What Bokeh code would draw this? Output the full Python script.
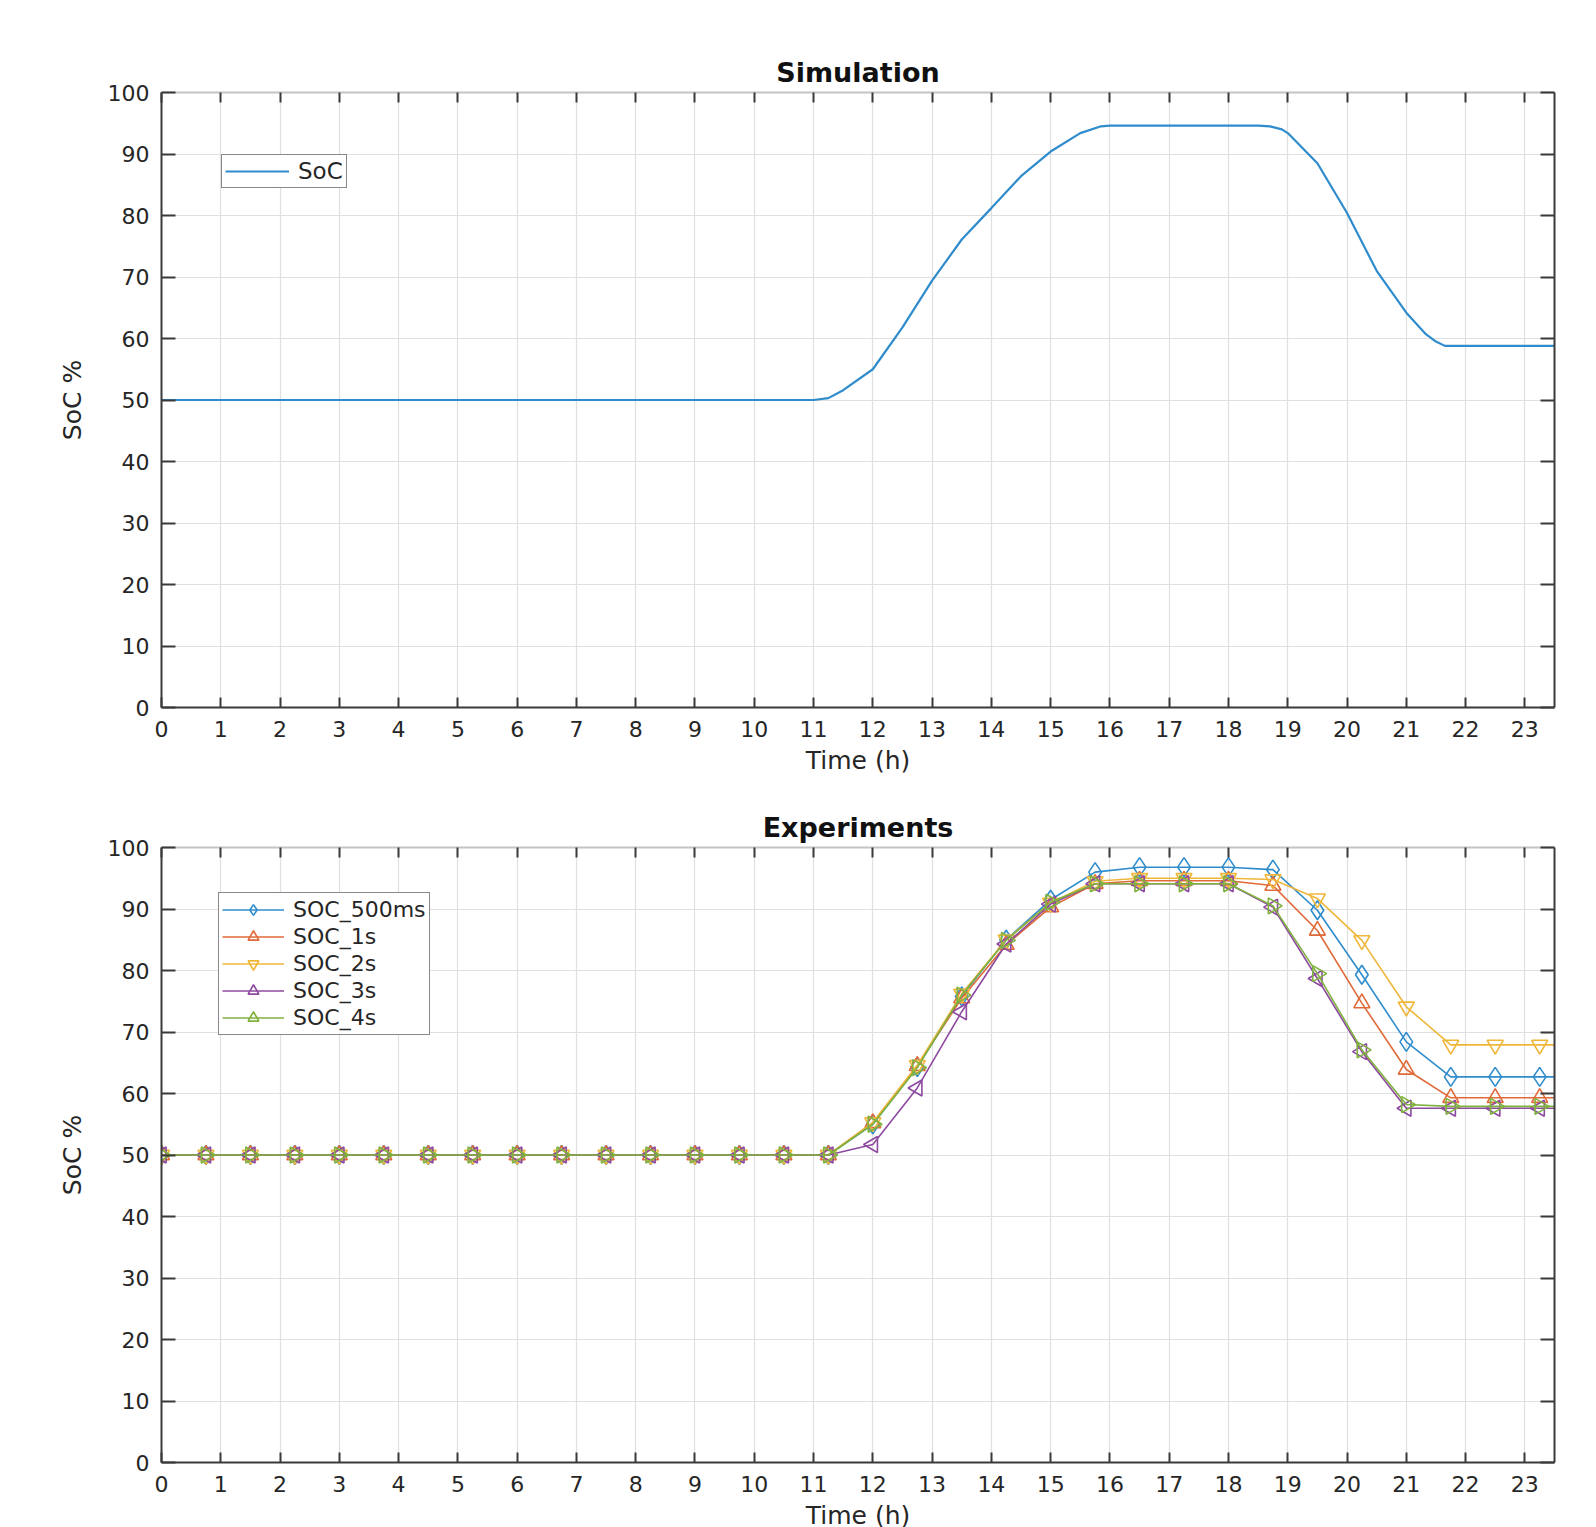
import numpy as np
from bokeh.plotting import figure
from bokeh.models import LinearAxis, FixedTicker, Legend, LegendItem, Range1d, ColumnDataSource
from bokeh.layouts import column
from bokeh.embed import file_html
from bokeh.resources import INLINE

# ---------------- data ----------------
HOUR_TICKS = [0, 1, 2, 3, 4, 5, 6, 7, 8, 9, 10, 11, 12, 13, 14, 15, 16, 17, 18, 19, 20, 21, 22, 23]
SOC_TICKS = [0, 10, 20, 30, 40, 50, 60, 70, 80, 90, 100]
X_END = 23.5

sim_time = [0.0, 11.0, 11.25, 11.5, 12.0, 12.5, 13.0, 13.5, 14.0, 14.5, 15.0, 15.5, 15.85, 16.0,
            18.5, 18.7, 18.9, 19.0, 19.5, 20.0, 20.5, 21.0, 21.33, 21.5, 21.65, 23.5]
sim_soc = [50.0, 50.0, 50.3, 51.6, 55.0, 61.8, 69.4, 76.1, 81.2, 86.4, 90.4, 93.4, 94.5, 94.6,
           94.6, 94.5, 94.0, 93.4, 88.5, 80.4, 71.0, 64.2, 60.7, 59.5, 58.8, 58.8]

exp_time = [0.0, 0.75, 1.5, 2.25, 3.0, 3.75, 4.5, 5.25, 6.0, 6.75, 7.5, 8.25, 9.0, 9.75, 10.5, 11.25,
            12.0, 12.75, 13.5, 14.25, 15.0, 15.75, 16.5, 17.25, 18.0, 18.75, 19.5, 20.25, 21.0, 21.75,
            22.5, 23.25]
flat50 = [50.0] * 16
soc_500ms = flat50 + [55.0, 64.3, 75.8, 85.0, 91.5, 96.0, 96.8, 96.8, 96.8, 96.4, 89.8, 79.3, 68.4, 62.7, 62.7, 62.7]
soc_1s = flat50 + [55.2, 64.5, 75.5, 84.2, 90.3, 94.1, 94.6, 94.6, 94.6, 93.8, 86.5, 74.7, 63.9, 59.3, 59.3, 59.3]
soc_2s = flat50 + [55.3, 64.6, 76.2, 85.0, 91.0, 94.5, 95.0, 95.0, 95.0, 94.8, 91.7, 84.9, 74.1, 67.9, 67.9, 67.9]
soc_3s = flat50 + [51.7, 60.9, 73.3, 84.3, 90.8, 94.1, 94.1, 94.1, 94.1, 90.3, 78.7, 66.8, 57.6, 57.6, 57.6, 57.6]
soc_4s = flat50 + [55.0, 64.2, 76.0, 84.9, 91.1, 94.1, 94.1, 94.1, 94.1, 90.5, 79.5, 67.1, 58.2, 57.9, 57.9, 57.9]

series_names = ["SOC_500ms", "SOC_1s", "SOC_2s", "SOC_3s", "SOC_4s"]
series_values = [soc_500ms, soc_1s, soc_2s, soc_3s, soc_4s]

# ---------------- style ----------------
FONT = "DejaVu Sans"
TXT = "#262626"
AX = "#3a3a3a"
GRID = "#e0e0e0"
COLORS = ["#2f8ccc", "#e06a38", "#efb73a", "#8e4aa0", "#7fb23e"]
MARKERS = [("diamond", 0.0, 19), ("triangle", 0.0, 16), ("inverted_triangle", 0.0, 16),
           ("triangle", np.pi / 2, 16), ("triangle", -np.pi / 2, 16)]
FRAME_W = 1393
FRAME_H = 615


def make_fig(title, top_border):
    p = figure(frame_width=FRAME_W, frame_height=FRAME_H,
               x_range=Range1d(0, X_END), y_range=Range1d(0, 100),
               output_backend="svg", toolbar_location=None,
               min_border_left=161, min_border_right=34,
               min_border_top=top_border, min_border_bottom=10)
    p.outline_line_color = None
    p.background_fill_color = "white"
    p.border_fill_color = "white"

    p.title.text = title
    p.title.align = "center"
    p.title.text_font = FONT
    p.title.text_font_size = "27px"
    p.title.text_font_style = "bold"
    p.title.text_color = "#111111"
    p.title.standoff = 9

    xa = p.xaxis[0]
    xa.ticker = FixedTicker(ticks=HOUR_TICKS)
    xa.axis_label = "Time (h)"
    ya = p.yaxis[0]
    ya.ticker = FixedTicker(ticks=SOC_TICKS)
    ya.axis_label = "SoC %"
    for a, tin in ((xa, 10), (ya, 14)):
        a.major_tick_in = tin
        a.major_tick_out = 0
        a.minor_tick_line_color = None
        a.axis_line_color = AX
        a.axis_line_width = 2
        a.major_tick_line_color = AX
        a.major_tick_line_width = 2
        a.major_label_text_font = FONT
        a.major_label_text_font_size = "22px"
        a.major_label_text_color = TXT
        a.axis_label_text_font = FONT
        a.axis_label_text_font_size = "25px"
        a.axis_label_text_font_style = "normal"
        a.axis_label_text_color = TXT
    xa.major_label_standoff = 13
    xa.axis_label_standoff = 6
    ya.major_label_standoff = 12
    ya.axis_label_standoff = 18

    top = LinearAxis(ticker=FixedTicker(ticks=HOUR_TICKS), major_label_text_font_size="0px",
                     major_label_text_alpha=0, major_label_standoff=0,
                     major_tick_in=10, major_tick_out=0, minor_tick_line_color=None,
                     axis_line_color="#c4c4c4", axis_line_width=2,
                     major_tick_line_color=AX, major_tick_line_width=2)
    right = LinearAxis(ticker=FixedTicker(ticks=SOC_TICKS), major_label_text_font_size="0px",
                       major_label_text_alpha=0, major_label_standoff=0,
                       major_tick_in=14, major_tick_out=0, minor_tick_line_color=None,
                       axis_line_color=AX, axis_line_width=2,
                       major_tick_line_color=AX, major_tick_line_width=2)
    p.add_layout(top, "above")
    p.add_layout(right, "right")

    p.xgrid.ticker = FixedTicker(ticks=HOUR_TICKS)
    p.ygrid.ticker = FixedTicker(ticks=SOC_TICKS)
    for g in (p.xgrid[0], p.ygrid[0]):
        g.grid_line_color = GRID
        g.grid_line_width = 1.2
    return p


def style_legend(lg, font_size, row_h):
    lg.border_line_color = "#111111"
    lg.border_line_width = 1.5
    lg.background_fill_color = "white"
    lg.background_fill_alpha = 1.0
    lg.label_text_font = FONT
    lg.label_text_font_size = font_size
    lg.label_text_color = TXT
    lg.glyph_height = row_h
    lg.label_height = row_h
    lg.label_standoff = 9
    lg.margin = 0


# ---------------- top: simulation ----------------
p1 = make_fig("Simulation", 92)
r_sim = p1.line(sim_time, sim_soc, line_color=COLORS[0], line_width=2.2)
lg1 = Legend(items=[LegendItem(label="SoC", renderers=[r_sim])], location=(60, 519))
style_legend(lg1, "23px", 20)
lg1.glyph_width = 64
lg1.padding = 3
lg1.spacing = 0
p1.add_layout(lg1)

# ---------------- bottom: experiments ----------------
p2 = make_fig("Experiments", 70)
items = []
for name, vals, col, (mk, ang, sz) in zip(series_names, series_values, COLORS, MARKERS):
    lx = exp_time + [X_END]
    ly = vals + [vals[-1]]
    rl = p2.line(lx, ly, line_color=col, line_width=1.6)
    src = ColumnDataSource(dict(x=exp_time, y=vals, ang=[ang] * len(exp_time)))
    rs = p2.scatter("x", "y", source=src, marker=mk, angle="ang", size=sz,
                    line_color=col, fill_color=None, line_width=1.6)
    items.append(LegendItem(label=name, renderers=[rl, rs], index=0))
lg2 = Legend(items=items, location=(57, 427))
style_legend(lg2, "22px", 27)
lg2.glyph_width = 62
lg2.padding = 3
lg2.spacing = 0
p2.add_layout(lg2)

layout = column(p1, p2, spacing=0)
open("out.html", "w").write(file_html(layout, INLINE))
